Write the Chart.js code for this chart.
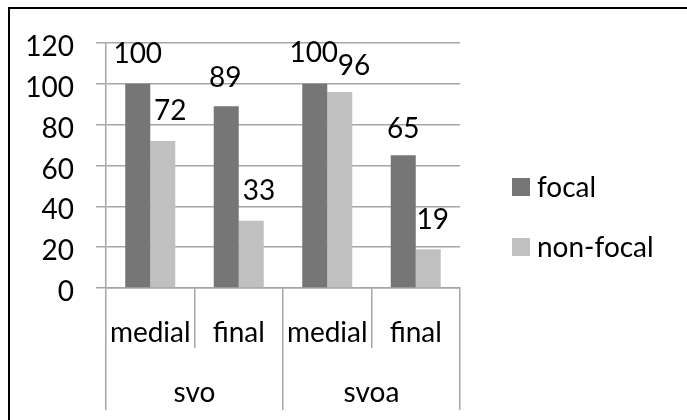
<!DOCTYPE html>
<html>
<head>
<meta charset="utf-8">
<script src="https://cdn.jsdelivr.net/npm/chart.js@4"></script>
<style>
  html, body { margin: 0; padding: 0; background: #fff; overflow: hidden; }
  #wrap { position: absolute; left: 0; top: 0; width: 687px; height: 420px; }
  #frame { position: absolute; left: 8px; top: 7px; width: 720px; height: 440px;
           border-top: 2px solid #000; border-left: 2px solid #000; pointer-events: none; }
</style>
</head>
<body>
<div id="wrap"><canvas id="chart" width="687" height="420"></canvas></div>
<div id="frame"></div>
<script>
// Word position inside each sentence type, and the sentence types they belong to
const positions = ['medial', 'final', 'medial', 'final'];
const groups = ['svo', 'svoa'];

// Scores per position
const focalValues = [100, 89, 100, 65];
const nonFocalValues = [72, 33, 96, 19];
const seriesNames = ['focal', 'non-focal'];

// Value axis ticks
const yTicks = [0, 20, 40, 60, 80, 100, 120];

const FONT_FAMILY = 'Lato, "Open Sans", sans-serif';
const FONT_SIZE = 28;
const FONT = { family: FONT_FAMILY, size: FONT_SIZE, lineHeight: 1 };
const FONT_CSS = FONT_SIZE + 'px ' + FONT_FAMILY;
const GRID = '#a6a6a6';

// Numbers written above each bar
const valueLabels = {
  id: 'valueLabels',
  afterDatasetsDraw(chart, args, opts) {
    const ctx = chart.ctx;
    ctx.save();
    ctx.font = FONT_CSS;
    ctx.fillStyle = opts.color;
    ctx.textAlign = 'center';
    ctx.textBaseline = 'alphabetic';
    chart.data.datasets.forEach((ds, i) => {
      const meta = chart.getDatasetMeta(i);
      const nx = opts.nudgeX[i] || [];
      const ny = opts.nudgeY[i] || [];
      meta.data.forEach((bar, j) => {
        ctx.fillText(String(ds.data[j]), bar.x + (nx[j] || 0), bar.y - opts.gap + (ny[j] || 0));
      });
    });
    ctx.restore();
  }
};

// Series key to the right of the plot
const sideLegend = {
  id: 'sideLegend',
  afterDraw(chart, args, opts) {
    const ctx = chart.ctx;
    const area = chart.chartArea;
    ctx.save();
    ctx.font = FONT_CSS;
    ctx.textAlign = 'left';
    ctx.textBaseline = 'middle';
    chart.data.datasets.forEach((ds, i) => {
      const left = area.right + opts.gap;
      const top = opts.top + i * opts.spacing;
      ctx.fillStyle = ds.backgroundColor;
      ctx.fillRect(left, top, opts.box, opts.box);
      ctx.fillStyle = opts.color;
      ctx.fillText(ds.label, left + opts.box + opts.textGap, top + opts.box / 2 + opts.textDy);
    });
    ctx.restore();
  }
};

new Chart(document.getElementById('chart'), {
  type: 'bar',
  data: {
    labels: positions,
    datasets: [
      { label: seriesNames[0], data: focalValues, backgroundColor: '#767676', xAxisID: 'x' },
      { label: seriesNames[1], data: nonFocalValues, backgroundColor: '#c0c0c0', xAxisID: 'x' }
    ]
  },
  options: {
    responsive: false,
    animation: false,
    devicePixelRatio: 1,
    categoryPercentage: 0.565,
    barPercentage: 1,
    layout: { padding: { left: 0, top: 43, right: 227, bottom: 10 } },
    plugins: {
      legend: { display: false },
      tooltip: { enabled: false },
      valueLabels: {
        color: '#000',
        gap: 20.5,
        nudgeX: [[0, -1, -1, 0], [7.5, 7.8, 14.3, 4.5]],
        nudgeY: [[0, 1.6, -1, 3.1], [-0.5, -0.2, 3.2, 0.4]]
      },
      sideLegend: { color: '#000', gap: 52, top: 178, spacing: 60, box: 18, textGap: 7, textDy: 1 }
    },
    scales: {
      y: {
        min: 0,
        max: 120,
        afterBuildTicks: (scale) => { scale.ticks = yTicks.map(v => ({ value: v })); },
        afterFit: (scale) => { scale.width = 106; },
        grid: { color: GRID, lineWidth: 1.5, tickLength: 10 },
        border: { display: true, color: GRID, width: 1.5 },
        ticks: { font: FONT, color: '#000', padding: 22, labelOffset: 4 }
      },
      x: {
        type: 'category',
        position: 'bottom',
        offset: true,
        afterFit: (scale) => { scale.height = 60; },
        grid: { offset: true, drawOnChartArea: false, drawTicks: true, tickLength: 60, color: GRID, lineWidth: 1.5 },
        border: { display: true, color: GRID, width: 1.5 },
        ticks: { font: FONT, color: '#000', padding: -29, maxRotation: 0, autoSkip: false }
      },
      x2: {
        type: 'category',
        position: 'bottom',
        labels: groups,
        offset: true,
        afterFit: (scale) => { scale.height = 62; },
        grid: { offset: true, drawOnChartArea: false, drawTicks: true, tickLength: 62, color: GRID, lineWidth: 1.5 },
        border: { display: false },
        ticks: { font: FONT, color: '#000', padding: -31, maxRotation: 0, autoSkip: false }
      }
    }
  },
  plugins: [valueLabels, sideLegend]
});
</script>
</body>
</html>
